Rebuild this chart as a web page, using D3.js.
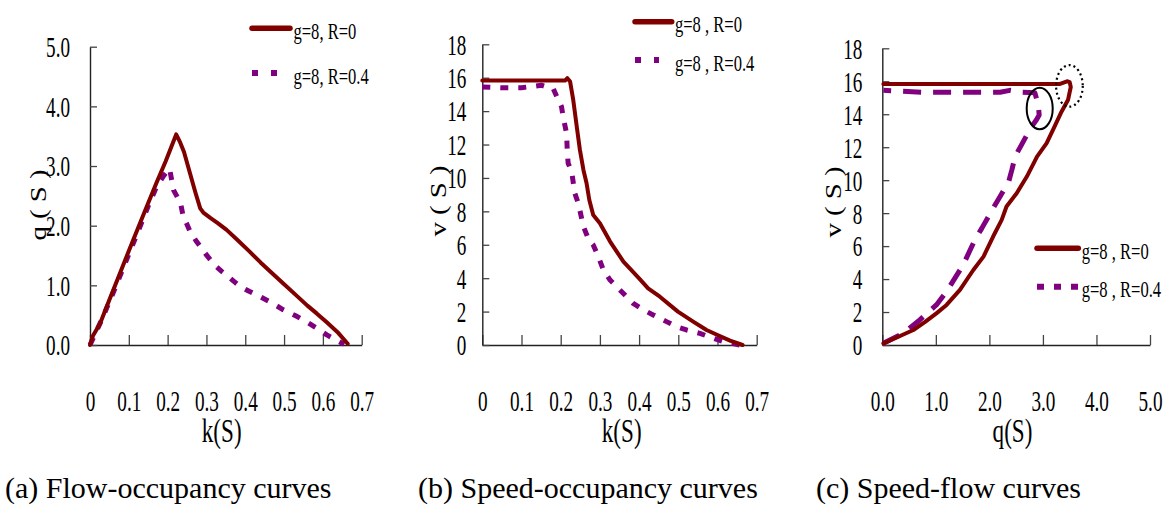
<!DOCTYPE html>
<html><head><meta charset="utf-8">
<script src="https://cdn.jsdelivr.net/npm/d3@7"></script>
<style>
body{margin:0;background:#fff;}
svg, svg text{font-family:"Liberation Serif","Times New Roman",serif;}
svg{display:block;}
</style></head><body><svg id="chart" width="1169" height="507"></svg>
<script>
// ---------- DATA ----------
// (a) flow-occupancy
const kA_R0  = [0,0.008,0.026,0.05,0.08,0.11,0.14,0.17,0.195,0.222,0.232,0.242,0.258,0.271,0.284,0.292,0.31,0.33,0.352,0.38,0.412,0.44,0.47,0.498,0.53,0.56,0.584,0.61,0.64,0.664];
const qA_R0  = [0,0.16,0.36,0.76,1.25,1.74,2.22,2.7,3.08,3.53,3.4,3.24,2.87,2.57,2.29,2.22,2.13,2.04,1.93,1.76,1.56,1.38,1.2,1.03,0.84,0.66,0.53,0.38,0.2,0.02];
const kA_R04 = [0,0.01,0.03,0.06,0.09,0.12,0.15,0.172,0.19,0.205,0.215,0.225,0.232,0.24,0.25,0.258,0.275,0.29,0.3,0.315,0.326,0.34,0.352,0.37,0.387,0.41,0.438,0.47,0.498,0.53,0.558,0.585,0.61,0.635,0.655];
const qA_R04 = [0,0.14,0.42,0.88,1.36,1.84,2.33,2.66,2.84,2.96,2.6,2.48,2.42,2.16,2.02,1.9,1.73,1.6,1.51,1.39,1.31,1.23,1.17,1.07,0.98,0.9,0.81,0.7,0.59,0.49,0.39,0.28,0.17,0.08,0.01];
// (b) speed-occupancy
const kB_R0  = [0,0.05,0.1,0.15,0.2,0.211,0.217,0.224,0.232,0.241,0.249,0.258,0.266,0.273,0.283,0.3,0.326,0.36,0.4,0.423,0.453,0.499,0.538,0.572,0.6,0.632,0.664];
const vB_R0  = [15.83,15.83,15.83,15.83,15.83,15.83,15.97,15.77,14.67,13.07,11.68,10.48,9.68,8.68,7.78,7.29,6.19,4.99,3.99,3.39,2.89,2.0,1.4,0.9,0.6,0.26,0];
const kB_R04 = [0,0.05,0.1,0.151,0.17,0.181,0.19,0.202,0.207,0.215,0.217,0.219,0.228,0.236,0.245,0.258,0.27,0.283,0.296,0.309,0.326,0.351,0.385,0.411,0.436,0.47,0.496,0.521,0.555,0.589,0.615,0.657];
const vB_R04 = [15.45,15.4,15.4,15.55,15.4,15.35,14.87,14.27,13.57,12.67,11.48,10.88,10.38,9.08,8.48,7.09,6.39,5.99,5.29,4.49,3.89,3.29,2.49,2.1,1.8,1.4,1.1,0.9,0.7,0.4,0.2,0];
// (c) speed-flow
const qC_R0  = [0.02,0.3,0.58,0.8,1.01,1.2,1.45,1.7,1.89,2.07,2.23,2.32,2.51,2.7,2.89,3.07,3.19,3.35,3.47,3.52,3.5,3.45,3.32,2.5,1.5,0.5,0.02];
const vC_R0  = [0.1,0.5,0.91,1.4,1.92,2.43,3.34,4.55,5.36,6.58,7.59,8.4,9.21,10.22,11.43,12.25,13.06,14.17,14.88,15.65,15.95,16.0,15.84,15.84,15.84,15.84,15.84];
const qC_R04 = [0.02,0.39,0.7,1.01,1.2,1.51,1.73,1.86,2.07,2.2,2.36,2.42,2.48,2.7,2.79,2.88,2.93,2.91,2.88,2.85,2.6,2.38,2.2,1.5,0.8,0.3,0.02];
const vC_R04 = [0.1,0.71,1.52,2.43,3.24,4.86,6.38,7.09,8.3,9.01,9.9,10.62,11.43,12.74,13.26,13.66,13.95,14.68,14.95,15.3,15.33,15.45,15.33,15.33,15.33,15.4,15.45];
// annotation ellipses in panel (c): [q centre, v centre, q radius, v radius]
const ellipseSolid  = [2.94, 14.35, 0.243, 1.26];
const ellipseDotted = [3.495, 15.72, 0.249, 1.26];
// ticks / labels
const kTicks = [0,0.1,0.2,0.3,0.4,0.5,0.6,0.7];
const qTicksA = [0,1,2,3,4,5];
const vTicks = [0,2,4,6,8,10,12,14,16,18];
const qTicksC = [0,1,2,3,4,5];
const legendA = ["g=8, R=0","g=8, R=0.4"];
const legendBC = ["g=8 , R=0","g=8 , R=0.4"];
const captions = ["(a) Flow-occupancy curves","(b) Speed-occupancy curves","(c) Speed-flow curves"];

// ---------- STYLE ----------
const FONT = '"Liberation Serif","Times New Roman",serif';
const RED = "#800000", PURPLE = "#800080";
const svg = d3.select("#chart");
const zip = (a,b) => a.map((v,i)=>[v,b[i]]);

function panel(o){
  const x = d3.scaleLinear().domain(o.xDom).range([o.x0,o.x1]);
  const y = d3.scaleLinear().domain(o.yDom).range([345,o.yTop]);
  const g = svg.append("g");
  // x axis
  const gx = g.append("g").attr("transform","translate(0,345)")
    .call(d3.axisBottom(x).tickValues(o.xTicks).tickFormat(o.xFmt).tickSizeInner(-10).tickSizeOuter(0))
    .attr("font-family",FONT);
  gx.select(".domain").attr("stroke","#222").attr("stroke-width",1.4);
  gx.selectAll(".tick line").attr("stroke","#444").attr("stroke-width",1.3);
  gx.selectAll(".tick text").attr("y",0).attr("dy",0).attr("fill","#000")
    .style("font-size","30px").attr("transform","translate(0,66) scale(0.64,1)");
  // y axis
  const gy = g.append("g").attr("transform",`translate(${o.x0},0)`)
    .call(d3.axisLeft(y).tickValues(o.yTicks).tickFormat(o.yFmt).tickSizeInner(-7).tickSizeOuter(0))
    .attr("font-family",FONT);
  gy.select(".domain").attr("stroke","#222").attr("stroke-width",1.4);
  gy.selectAll(".tick line").attr("stroke","#444").attr("stroke-width",1.3);
  gy.selectAll(".tick text").attr("x",0).attr("dy","0.34em").attr("fill","#000")
    .style("font-size","29px").attr("transform",`translate(${-o.yGap},0) scale(0.66,1)`);
  // axis titles
  g.append("text").attr("text-anchor","middle").style("font-size","33px")
    .attr("transform",`translate(${o.xLab[0]},${o.xLab[1]}) scale(0.7,1)`).text(o.xTitle);
  g.append("text").attr("text-anchor","middle").attr("dominant-baseline","central").style("font-size","24px")
    .attr("transform",`translate(${o.yLab[0]},${o.yLab[1]}) rotate(-90) scale(1.2,1)`).text(o.yTitle);
  // curves
  const line = d3.line().x(d=>x(d[0])).y(d=>y(d[1]));
  g.append("path").datum(o.s2).attr("d",line).attr("fill","none").attr("stroke",PURPLE)
    .attr("stroke-width",5).attr("stroke-dasharray",o.dash).attr("stroke-linejoin","round");
  g.append("path").datum(o.s1).attr("d",line).attr("fill","none").attr("stroke",RED)
    .attr("stroke-width",4).attr("stroke-linejoin","round").attr("stroke-linecap","round");
  // legend
  const L = o.leg;
  g.append("line").attr("x1",L.x1).attr("x2",L.x2).attr("y1",L.y1).attr("y2",L.y1)
    .attr("stroke",RED).attr("stroke-width",5.5).attr("stroke-linecap","round");
  g.append("line").attr("x1",L.x1).attr("x2",L.d2).attr("y1",L.y2).attr("y2",L.y2)
    .attr("stroke",PURPLE).attr("stroke-width",6).attr("stroke-dasharray",L.dd);
  [[L.y1+L.tb,0],[L.y2+L.tb,1]].forEach(([yy,i])=>{
    g.append("text").style("font-size","23px")
      .attr("transform",`translate(${L.tx},${yy}) scale(0.72,1)`).text(o.legText[i]);
  });
  return {x,y,g};
}

panel({xDom:[0,0.7],yDom:[0,5],x0:90,x1:361.7,yTop:46.7,xTicks:kTicks,yTicks:qTicksA,
  xFmt:d=>d===0?"0":d3.format(".1f")(d), yFmt:d3.format(".1f"), yGap:20,
  xTitle:"k(S)", xLab:[221.7,442], yTitle:"q ( S )", yLab:[38,205],
  s1:zip(kA_R0,qA_R0), s2:zip(kA_R04,qA_R04), dash:"8,10",
  leg:{x1:252,x2:290,d2:278,y1:28.3,y2:73,dd:"6,13",tx:293.5,tb:11}, legText:legendA});

panel({xDom:[0,0.7],yDom:[0,18],x0:482.3,x1:756.7,yTop:44.3,xTicks:kTicks,yTicks:vTicks,
  xFmt:d=>d===0?"0":d3.format(".1f")(d), yFmt:d3.format("d"), yGap:16,
  xTitle:"k(S)", xLab:[621.7,442], yTitle:"v ( S )", yLab:[438,201],
  s1:zip(kB_R0,vB_R0), s2:zip(kB_R04,vB_R04), dash:"8,10",
  leg:{x1:635,x2:671.7,d2:659,y1:21.7,y2:60,dd:"6,13",tx:675,tb:10.5}, legText:legendBC});

const pc = panel({xDom:[0,5],yDom:[0,18],x0:882.3,x1:1150,yTop:48.3,xTicks:qTicksC,yTicks:vTicks,
  xFmt:d3.format(".1f"), yFmt:d3.format("d"), yGap:20,
  xTitle:"q(S)", xLab:[1012.5,442], yTitle:"v ( S )", yLab:[833,202],
  s1:zip(qC_R0,vC_R0), s2:zip(qC_R04,vC_R04), dash:"18,12",
  leg:{x1:1037,x2:1078.3,d2:1079,y1:248.3,y2:286.7,dd:"7,10",tx:1081.7,tb:10.5}, legText:legendBC});

// ellipses in panel (c)
[[ellipseSolid,null,2],[ellipseDotted,"2,3",2.2]].forEach(([e,da,w])=>{
  const el = pc.g.append("ellipse")
    .attr("cx",pc.x(e[0])).attr("cy",pc.y(e[1]))
    .attr("rx",pc.x(e[0]+e[2])-pc.x(e[0])).attr("ry",pc.y(e[1])-pc.y(e[1]+e[3]))
    .attr("fill","none").attr("stroke","#000").attr("stroke-width",w);
  if(da) el.attr("stroke-dasharray",da);
});

// captions
const capX = [5,418,816];
captions.forEach((c,i)=>{
  svg.append("text").attr("x",capX[i]).attr("y",498).style("font-size","30px").attr("fill","#000").text(c);
});
</script></body></html>
